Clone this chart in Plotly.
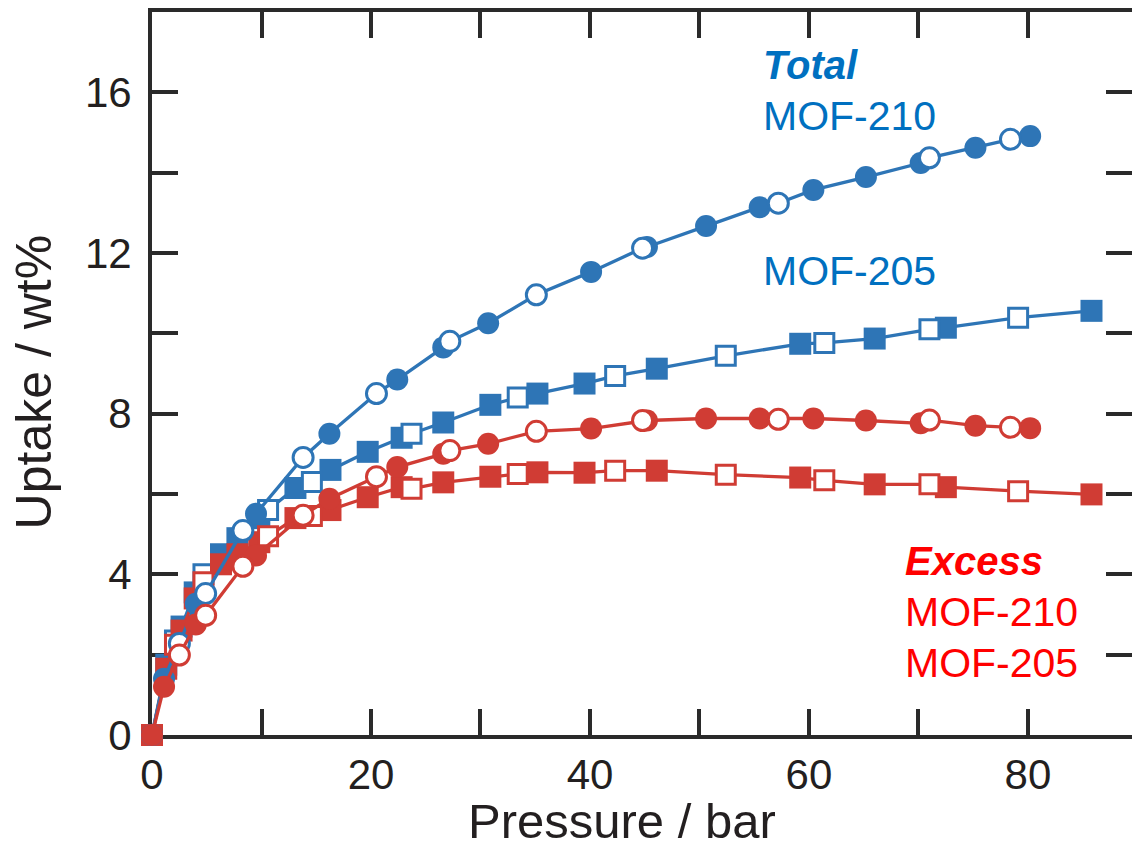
import plotly.graph_objects as go

# Pressure (bar) and uptake (wt%) — filled = adsorption, open = desorption
# MOF-210 (circles)
p210_ads = [0, 1.1, 4.0, 9.5, 16.2, 22.4, 26.6, 30.7, 40.1, 45.2, 50.6, 55.5, 60.4, 65.2, 70.2, 75.2, 80.2]
p210_des = [2.5, 4.9, 8.3, 13.8, 20.5, 27.2, 35.1, 44.8, 57.2, 71.0, 78.4]
tot210_ads = [0, 1.4, 3.27, 5.51, 7.5, 8.85, 9.65, 10.25, 11.53, 12.15, 12.67, 13.14, 13.57, 13.89, 14.24, 14.62, 14.91]
tot210_des = [2.28, 3.52, 5.09, 6.91, 8.5, 9.8, 10.96, 12.12, 13.24, 14.37, 14.83]
exc210_ads = [0, 1.2, 2.75, 4.47, 5.88, 6.67, 7.0, 7.25, 7.63, 7.83, 7.88, 7.88, 7.88, 7.83, 7.76, 7.70, 7.64]
exc210_des = [1.99, 2.98, 4.2, 5.47, 6.43, 7.08, 7.56, 7.83, 7.86, 7.84, 7.66]

# MOF-205 (squares)
p205_ads = [0, 1.3, 2.7, 3.9, 6.3, 7.8, 9.8, 13.1, 16.3, 19.7, 22.8, 26.6, 30.9, 35.2, 39.5, 46.1, 59.2, 66.0, 72.5, 85.8]
p205_des = [2.1, 4.7, 10.6, 14.6, 23.7, 33.4, 42.3, 52.4, 61.4, 71.0, 79.1]
tot205_ads = [0, 1.75, 2.7, 3.55, 4.5, 4.9, 5.4, 6.15, 6.6, 7.05, 7.4, 7.78, 8.22, 8.5, 8.75, 9.12, 9.74, 9.87, 10.14, 10.56]
tot205_des = [2.35, 4.0, 5.6, 6.3, 7.5, 8.4, 8.94, 9.44, 9.76, 10.10, 10.39]
exc205_ads = [0, 1.65, 2.6, 3.4, 4.25, 4.5, 4.8, 5.4, 5.6, 5.92, 6.17, 6.29, 6.43, 6.54, 6.53, 6.58, 6.41, 6.24, 6.17, 5.99]
exc205_des = [2.25, 3.8, 4.95, 5.45, 6.13, 6.5, 6.58, 6.48, 6.34, 6.24, 6.07]

x_ticks = [0, 10, 20, 30, 40, 50, 60, 70, 80, 90]
x_labels = ["0", "", "20", "", "40", "", "60", "", "80", ""]
y_ticks = [0, 2, 4, 6, 8, 10, 12, 14, 16, 18]
y_labels = ["0", "", "4", "", "8", "", "12", "", "16", ""]

BLUE = "#2e75b6"
RED = "#d03c34"
BLUE_TXT = "#0070c0"
RED_TXT = "#ff0000"
AXIS = "#2a2a2a"
LABEL = "#231f20"
FONT = "Liberation Sans, Arial, sans-serif"

fig = go.Figure()


def add_series(p_ads, v_ads, p_des, v_des, color, symbol, yaxis="y"):
    filled = 22
    hollow = 20 if symbol == "circle" else 19
    # connecting line through all points ordered by pressure
    pts = sorted(zip(p_ads + p_des, v_ads + v_des))
    fig.add_trace(go.Scatter(
        x=[p for p, _ in pts], y=[v for _, v in pts], mode="lines", yaxis=yaxis,
        line=dict(color=color, width=3.3), cliponaxis=False,
        hoverinfo="skip", showlegend=False))
    fig.add_trace(go.Scatter(
        x=p_ads, y=v_ads, mode="markers", cliponaxis=False, showlegend=False, yaxis=yaxis,
        marker=dict(symbol=symbol, size=filled, color=color,
                    line=dict(color=color, width=0))))
    fig.add_trace(go.Scatter(
        x=p_des, y=v_des, mode="markers", cliponaxis=False, showlegend=False, yaxis=yaxis,
        marker=dict(symbol=symbol, size=hollow, color="white",
                    line=dict(color=color, width=3))))


add_series(p205_ads, tot205_ads, p205_des, tot205_des, BLUE, "square")
add_series(p205_ads, exc205_ads, p205_des, exc205_des, RED, "square")
add_series(p210_ads, tot210_ads, p210_des, tot210_des, BLUE, "circle")
# excess MOF-210 sits on the right-hand (tick-only) axis, which shares the same scale
add_series(p210_ads, exc210_ads, p210_des, exc210_des, RED, "circle", yaxis="y2")

tick_style = dict(
    showgrid=False, zeroline=False, linecolor=AXIS, linewidth=4,
    ticks="inside", ticklen=26, tickwidth=3.5, tickcolor=AXIS,
    tickfont=dict(family=FONT, size=42, color=LABEL), layer="below traces",
)

fig.update_layout(
    width=1132, height=849,
    margin=dict(l=152, r=0, t=12, b=114),
    paper_bgcolor="white", plot_bgcolor="white",
    showlegend=False,
    xaxis=dict(range=[0, 89.5], tickmode="array", tickvals=x_ticks, ticktext=x_labels,
               showline=True, mirror="ticks", ticklabelstandoff=0, **tick_style),
    yaxis=dict(range=[0, 18], tickmode="array", tickvals=y_ticks, ticktext=y_labels,
               showline=True, mirror=False, ticklabelstandoff=8, **tick_style),
    yaxis2=dict(range=[0, 18], tickmode="array", tickvals=y_ticks, overlaying="y",
                side="right", showline=False, showticklabels=False, **tick_style),
)

annotations = [
    # axis titles
    dict(text="Pressure / bar", x=(622 - 152) / 980, y=-0.119, xref="paper", yref="paper",
         xanchor="center", yanchor="middle", showarrow=False, borderpad=0,
         font=dict(family=FONT, size=49, color=LABEL)),
    dict(text="Uptake / wt%", x=-0.12, y=(735 - 382) / 723, xref="paper", yref="paper",
         xanchor="center", yanchor="middle", textangle=-90, showarrow=False,
         font=dict(family=FONT, size=50, color=LABEL)),
    # series labels
    dict(text="<b><i>Total</i></b>", x=55.6, y=16.68, font=dict(family=FONT, size=40, color=BLUE_TXT)),
    dict(text="MOF-210", x=55.6, y=15.41, font=dict(family=FONT, size=41, color=BLUE_TXT)),
    dict(text="MOF-205", x=55.6, y=11.54, font=dict(family=FONT, size=41, color=BLUE_TXT)),
    dict(text="<b><i>Excess</i></b>", x=68.6, y=4.33, font=dict(family=FONT, size=40, color=RED_TXT)),
    dict(text="MOF-210", x=68.6, y=3.07, font=dict(family=FONT, size=41, color=RED_TXT)),
    dict(text="MOF-205", x=68.6, y=1.80, font=dict(family=FONT, size=41, color=RED_TXT)),
]
for a in annotations[2:]:
    a.update(xref="x", yref="y", xanchor="left", yanchor="middle", showarrow=False)
fig.update_layout(annotations=annotations)

fig.write_html("out.html")
